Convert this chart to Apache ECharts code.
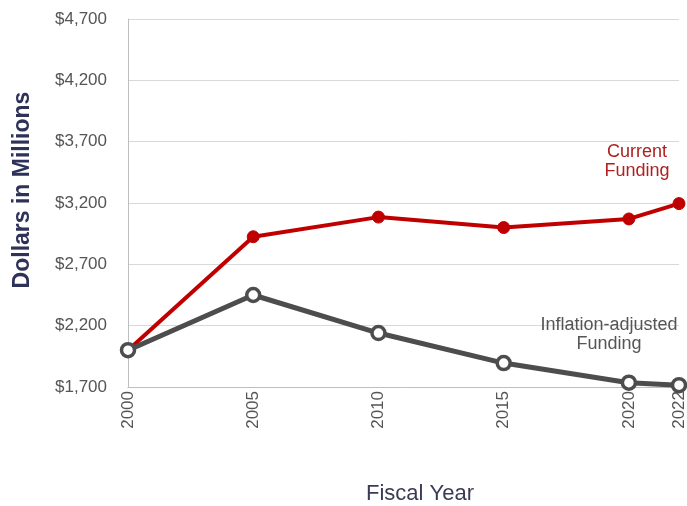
<!DOCTYPE html>
<html>
<head>
<meta charset="utf-8">
<script src="https://cdn.jsdelivr.net/npm/echarts@6/dist/echarts.min.js"></script>
<style>html,body{margin:0;padding:0;background:#fff}#c{width:687px;height:506px}</style>
</head>
<body>
<div id="c"></div>
<script>
const years = [2000, 2005, 2010, 2015, 2020, 2022];
const currentFunding = [2000, 2925, 3085, 3000, 3070, 3195];
const inflationAdjusted = [2000, 2450, 2140, 1895, 1735, 1715];
const yTicks = [1700, 2200, 2700, 3200, 3700, 4200, 4700];

const font = "'Liberation Sans', Arial, sans-serif";
const chart = echarts.init(document.getElementById('c'));
chart.setOption({
  animation: false,
  grid: { left: 128, right: 8, top: 19, bottom: 119, containLabel: false, outerBoundsMode: 'none' },
  xAxis: {
    type: 'value', min: 2000, max: 2022,
    name: 'Fiscal Year', nameLocation: 'middle', nameGap: 96,
    nameTextStyle: { fontSize: 22, color: '#3b3b58', fontFamily: font, padding: [0, 0, 0, 33] },
    axisLine: { show: true, lineStyle: { color: '#bfbfbf', width: 1 } },
    axisTick: { show: false },
    splitLine: { show: false },
    axisLabel: {
      customValues: years, rotate: 90, fontSize: 17, color: '#555', margin: 4,
      fontFamily: font, formatter: v => String(v)
    }
  },
  yAxis: {
    type: 'value', min: 1700, max: 4700, interval: 500,
    name: 'Dollars in Millions', nameLocation: 'middle', nameGap: 94,
    nameTextStyle: { fontSize: 23, fontWeight: 'bold', color: '#2e3158', fontFamily: font, padding: [0, 0, 0, 26] },
    axisLine: { show: true, lineStyle: { color: '#bfbfbf', width: 1 } },
    axisTick: { show: false },
    splitLine: { show: true, lineStyle: { color: '#d9d9d9', width: 1 } },
    axisLabel: {
      customValues: yTicks, fontSize: 17, color: '#555', margin: 21, fontFamily: font,
      formatter: v => '$' + v.toLocaleString('en-US')
    }
  },
  series: [
    {
      name: 'Current Funding', type: 'line',
      data: years.map((y, i) => [y, currentFunding[i]]),
      lineStyle: { color: '#c00000', width: 4 },
      itemStyle: { color: '#c00000', borderColor: '#c00000', borderWidth: 1 },
      symbol: 'circle', symbolSize: 12, z: 3
    },
    {
      name: 'Inflation-adjusted Funding', type: 'line',
      data: years.map((y, i) => [y, inflationAdjusted[i]]),
      lineStyle: { color: '#4d4d4d', width: 5 },
      itemStyle: { color: '#ffffff', borderColor: '#4d4d4d', borderWidth: 3.5 },
      symbol: 'circle', symbolSize: 13, z: 4
    }
  ],
  graphic: [
    { type: 'text', x: 637, y: 143, z: 10, style: { text: 'Current\nFunding', fill: '#b02020', font: "18px " + font, textAlign: 'center', textVerticalAlign: 'top', lineHeight: 19 } },
    { type: 'text', x: 609, y: 316, z: 10, style: { text: 'Inflation-adjusted\nFunding', fill: '#555', font: "18px " + font, textAlign: 'center', textVerticalAlign: 'top', lineHeight: 19 } }
  ]
});
</script>
</body>
</html>
